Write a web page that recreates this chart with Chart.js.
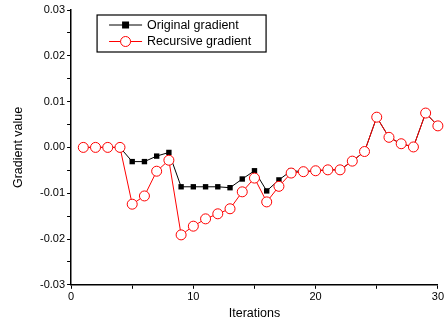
<!DOCTYPE html>
<html>
<head>
<meta charset="utf-8">
<script src="https://cdn.jsdelivr.net/npm/chart.js@4/dist/chart.umd.min.js"></script>
<style>
  html, body { margin: 0; padding: 0; background: #fff; overflow: hidden; }
  #wrap { width: 446px; height: 328px; }
</style>
</head>
<body>
<div id="wrap"><canvas id="gradChart" width="446" height="328"></canvas></div>
<script>
// iterations 1..30
const iterations = [1, 2, 3, 4, 5, 6, 7, 8, 9, 10, 11, 12, 13, 14, 15,
                    16, 17, 18, 19, 20, 21, 22, 23, 24, 25, 26, 27, 28, 29, 30];

const originalGradient = [0, 0, 0, 0, -0.0031, -0.0031, -0.0019, -0.0011, -0.0086, -0.0086,
                          -0.0086, -0.0086, -0.0088, -0.0069, -0.0051, -0.0095, -0.0071, -0.0051, -0.0053, -0.0051,
                          -0.0049, -0.0049, -0.0030, -0.0009, 0.0066, 0.0022, 0.0008, 0.0001, 0.0075, 0.0047];

const recursiveGradient = [0, 0, 0, 0, -0.0124, -0.0106, -0.0052, -0.0028, -0.0191, -0.0172,
                           -0.0156, -0.0145, -0.0134, -0.0097, -0.0067, -0.0119, -0.0085, -0.0056, -0.0053, -0.0051,
                           -0.0049, -0.0049, -0.0030, -0.0009, 0.0066, 0.0022, 0.0008, 0.0001, 0.0075, 0.0047];

const seriesNames = ['Original gradient', 'Recursive gradient'];

const FONT = 'Liberation Sans, Arial, Helvetica, sans-serif';

function toPoints(values) {
    return values.map((v, i) => ({ x: iterations[i], y: v }));
}

// legend drawn inside the plot, in a framed box
const boxLegend = {
    id: 'boxLegend',
    afterDraw(chart) {
        const ctx = chart.ctx;
        const area = chart.chartArea;
        const x0 = area.left + 26, y0 = area.top + 5;
        const w = 169, h = 37;
        ctx.save();
        ctx.fillStyle = '#fff';
        ctx.fillRect(x0, y0, w, h);
        ctx.strokeStyle = '#000';
        ctx.lineWidth = 1.2;
        ctx.strokeRect(x0, y0, w, h);
        ctx.font = '12.5px ' + FONT;
        ctx.textBaseline = 'middle';
        chart.data.datasets.forEach((ds, i) => {
            const cy = y0 + 10 + i * 16.5;
            ctx.strokeStyle = ds.borderColor;
            ctx.lineWidth = 1;
            ctx.beginPath();
            ctx.moveTo(x0 + 12, cy);
            ctx.lineTo(x0 + 45, cy);
            ctx.stroke();
            if (ds.pointStyle === 'rect') {
                ctx.fillStyle = ds.pointBackgroundColor;
                ctx.fillRect(x0 + 28.5 - 3.5, cy - 3.5, 7, 7);
            } else {
                ctx.fillStyle = '#fff';
                ctx.beginPath();
                ctx.arc(x0 + 28.5, cy, 5, 0, Math.PI * 2);
                ctx.fill();
                ctx.strokeStyle = ds.pointBorderColor;
                ctx.stroke();
            }
            ctx.fillStyle = '#000';
            ctx.fillText(ds.label, x0 + 50, cy + 0.5);
        });
        ctx.restore();
    }
};

new Chart(document.getElementById('gradChart').getContext('2d'), {
    type: 'line',
    data: {
        datasets: [{
            label: seriesNames[0],
            data: toPoints(originalGradient),
            borderColor: '#000',
            borderWidth: 1,
            pointStyle: 'rect',
            pointRadius: 3.8,
            pointBackgroundColor: '#000',
            pointBorderColor: '#000',
            pointBorderWidth: 0,
            tension: 0,
            order: 2
        }, {
            label: seriesNames[1],
            data: toPoints(recursiveGradient),
            borderColor: '#ff0000',
            borderWidth: 1,
            pointStyle: 'circle',
            pointRadius: 5,
            pointBackgroundColor: '#fff',
            pointBorderColor: '#ff0000',
            pointBorderWidth: 1,
            tension: 0,
            order: 1
        }]
    },
    options: {
        responsive: false,
        animation: false,
        clip: false,
        layout: { padding: { top: 10, right: 0, left: 11, bottom: 7 } },
        plugins: { legend: { display: false }, tooltip: { enabled: false } },
        scales: {
            x: {
                type: 'linear',
                min: 0,
                max: 30,
                grid: { drawOnChartArea: false, tickLength: 4, tickColor: '#000', tickWidth: 1 },
                border: { color: '#000', width: 1.5 },
                ticks: {
                    stepSize: 5,
                    color: '#000',
                    font: { family: FONT, size: 11 },
                    padding: 2,
                    maxRotation: 0,
                    callback: v => (Math.round(v) % 10 === 0 ? String(Math.round(v)) : '')
                },
                title: { display: true, text: 'Iterations', color: '#000', font: { family: FONT, size: 12.5 }, padding: { top: 0, bottom: 0 } }
            },
            y: {
                min: -0.03,
                max: 0.03,
                grid: { drawOnChartArea: false, tickLength: 4, tickColor: '#000', tickWidth: 1 },
                border: { color: '#000', width: 1.5 },
                ticks: {
                    stepSize: 0.005,
                    color: '#000',
                    font: { family: FONT, size: 11 },
                    padding: 2,
                    callback: v => {
                        const k = Math.round(v * 1000);
                        return k % 10 === 0 ? (k / 1000).toFixed(2) : '';
                    }
                },
                title: { display: true, text: 'Gradient value', color: '#000', font: { family: FONT, size: 12.5 }, padding: { top: 0, bottom: 12 } }
            }
        }
    },
    plugins: [boxLegend]
});
</script>
</body>
</html>
